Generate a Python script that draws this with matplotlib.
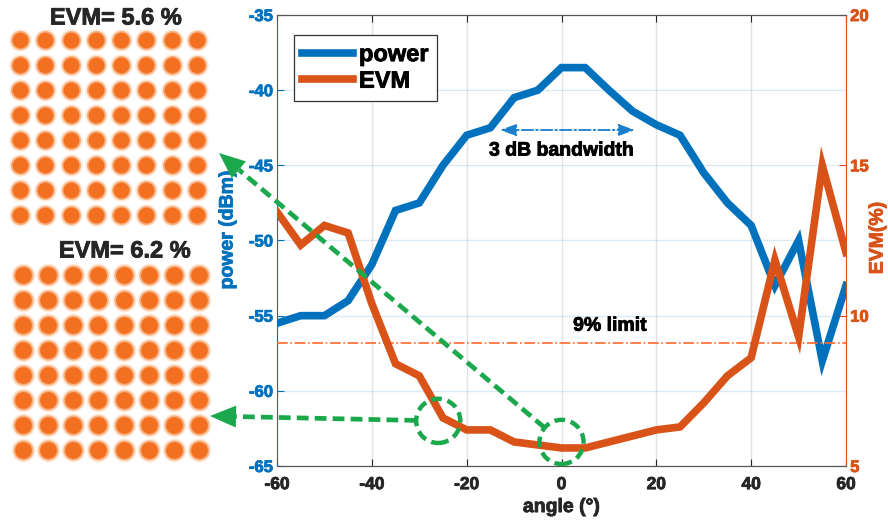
import numpy as np
import matplotlib.pyplot as plt
import matplotlib.patheffects as pe
from matplotlib.patches import Ellipse, Polygon

plt.rcParams['font.family'] = ['Liberation Sans', 'DejaVu Sans']
plt.rcParams['font.weight'] = 'bold'
plt.rcParams['axes.unicode_minus'] = False

# data
angle = [-60, -55, -50, -45, -40, -35, -30, -25, -20, -15, -10, -5, 0,
         5, 10, 15, 20, 25, 30, 35, 40, 45, 50, 55, 60]
power = [-55.5, -55, -55, -54, -51.6, -48, -47.5, -45, -43, -42.5, -40.5, -40, -38.5,
         -38.5, -40, -41.4, -42.3, -43, -45.5, -47.5, -49, -53, -50, -58, -53]
evm = [13.45, 12.35, 13.0, 12.75, 10.4, 8.4, 8.0, 6.6, 6.2, 6.2, 5.8, 5.7, 5.6,
       5.6, 5.8, 6.0, 6.2, 6.3, 7.1, 8.0, 8.6, 11.85, 9.3, 15.0, 12.1]
evm_limit = 9.1
bw_edges = [-13, 15.5]
bw_level = -42.65
marked_angle = [-26, 0]
marked_evm = [6.5, 5.8]
qam_levels = [-7, -5, -3, -1, 1, 3, 5, 7]
const_titles = ['EVM= 5.6 %', 'EVM= 6.2 %']
x_ticks = [-60, -40, -20, 0, 20, 40, 60]
p_ticks = [-65, -60, -55, -50, -45, -40, -35]
e_ticks = [5, 10, 15, 20]

blue = '#0072BD'
orange = '#D95319'
green = '#1BA84C'
dot = '#F37021'
dark = '#262626'

W, H = 888, 523
fig = plt.figure(figsize=(W / 100, H / 100), dpi=100)


def px_rect(x0, y0, x1, y1):
    return [x0 / W, 1 - y1 / H, (x1 - x0) / W, (y1 - y0) / H]


def heavy(t, w=0.6):
    # thicken the glyphs a little, like the blurred bold text of the original
    t.set_path_effects([pe.withStroke(linewidth=w, foreground=t.get_color())])


# ---- main plot
ax = fig.add_axes(px_rect(277, 15, 846, 466))
ax2 = ax.twinx()

l1, = ax.plot(angle, power, color=blue, lw=5.5, solid_joinstyle='miter', zorder=3)
l2, = ax2.plot(angle, evm, color=orange, lw=5.5, solid_joinstyle='miter', zorder=3)

ax.set_xlim(-60, 60)
ax.set_ylim(-65, -35)
ax2.set_ylim(5, 20)
ax.set_xticks(x_ticks, [str(v) for v in x_ticks], fontweight='bold', fontsize=12.5)
ax.set_yticks(p_ticks, [str(v) for v in p_ticks], fontweight='bold', fontsize=12)
ax2.set_yticks(e_ticks, [str(v) for v in e_ticks], fontweight='bold', fontsize=12)

ax.grid(True, axis='x', color=dark, alpha=0.13, lw=1)
ax.grid(True, axis='y', color=blue, alpha=0.15, lw=1)
ax.set_axisbelow(True)

ax.tick_params(axis='x', direction='in', length=5, top=True, colors=dark, pad=8)
ax.tick_params(axis='y', direction='in', length=5, colors=blue, pad=3)
ax2.tick_params(axis='y', direction='in', length=5, colors=orange, pad=3)
for t in ax.get_xticklabels():
    t.set_path_effects([pe.withStroke(linewidth=0.6, foreground=dark)])
for t in ax.get_yticklabels():
    t.set_path_effects([pe.withStroke(linewidth=0.6, foreground=blue)])
for t in ax2.get_yticklabels():
    t.set_path_effects([pe.withStroke(linewidth=0.6, foreground=orange)])

ax.spines['left'].set_color(blue)
ax.spines['right'].set_visible(False)
ax2.spines['left'].set_visible(False)
ax2.spines['right'].set_color(orange)
for a in (ax, ax2):
    a.spines['top'].set_color('#555555')
    a.spines['bottom'].set_color('#555555')

xl = ax.set_xlabel('angle (°)', fontsize=14, fontweight='bold', color=dark, labelpad=5)
heavy(xl)
heavy(fig.text(228 / W, 1 - 230 / H, 'power (dBm)', rotation=90, ha='center',
               va='center', fontsize=14, fontweight='bold', color=blue))
heavy(fig.text(878 / W, 1 - 238 / H, 'EVM(%)', rotation=90, ha='center',
               va='center', fontsize=14, fontweight='bold', color=orange))

# 9% limit line
ax2.plot([-60, 60], [evm_limit, evm_limit], color='#FF6A2B', lw=1.2, ls='-.', zorder=2)
heavy(ax2.text(10.2, 9.65, '9% limit', ha='center', va='center', fontsize=14,
               fontweight='bold', color='black'))

# 3 dB bandwidth
ax.annotate('', xy=(bw_edges[1], bw_level), xytext=(bw_edges[0], bw_level),
            arrowprops=dict(arrowstyle='<|-|>,head_length=0.7,head_width=0.25',
                            color='#1A7FCC', lw=1.3, ls='-.', mutation_scale=14,
                            shrinkA=0, shrinkB=0))
heavy(ax.text(0, -44.05, '3 dB bandwidth', ha='center', va='center', fontsize=14,
              fontweight='bold', color='black'))

# legend
leg = ax2.legend([l1, l2], ['power', 'EVM'], loc='upper left',
                 bbox_to_anchor=(0.03, 0.956), borderaxespad=0, fontsize=17,
                 handlelength=2.15, handletextpad=0.25, borderpad=0.35,
                 labelspacing=0.15, fancybox=False, framealpha=1,
                 edgecolor='#333333')
leg.get_frame().set_linewidth(0.9)
for t in leg.get_texts():
    t.set_fontweight('bold')
    heavy(t)

# circles and arrows to constellations (drawn in figure pixels)
heads = [(210, 416), (219, 153)]
circ_r = 22
head_len, head_half = 26, 11
for xa, ya, (hx, hy) in zip(marked_angle, marked_evm, heads):
    ax2.add_patch(Ellipse((xa, ya), 9.3, 1.47, fill=False, ec=green, lw=3.2,
                          ls=(0, (2.4, 1.3)), clip_on=False, zorder=5))
    cx, cy = ax2.transData.transform((xa, ya))
    tip = np.array([hx, H - hy], dtype=float)
    cen = np.array([cx, cy])
    d = tip - cen
    d = d / np.hypot(*d)
    nrm = np.array([-d[1], d[0]])
    start = cen + d * circ_r
    base = tip - d * head_len
    fig.add_artist(plt.Line2D([start[0], base[0]], [start[1], base[1]],
                              transform=None, color=green, lw=3.4,
                              ls=(0, (2.5, 1.3)), zorder=5))
    tri = np.array([tip, base + nrm * head_half, base - nrm * head_half])
    fig.add_artist(Polygon(tri, closed=True, transform=None, color=green, lw=0,
                           zorder=5))

# ---- constellations
qi, qq = np.meshgrid(qam_levels, qam_levels)
boxes = [(5, 25, 212, 230), (7.5, 260, 214.5, 465)]
title_pos = [(116, 18), (125, 251)]
grow = [1.0, 1.12]
for box, title, tp, g in zip(boxes, const_titles, title_pos, grow):
    cax = fig.add_axes(px_rect(*box))
    cax.scatter(qi.ravel(), qq.ravel(), s=260 * g, color='#FBC9A4', alpha=0.4,
                lw=0)
    cax.scatter(qi.ravel(), qq.ravel(), s=190 * g, color='#F59A5A', alpha=0.7,
                lw=0)
    cax.scatter(qi.ravel(), qq.ravel(), s=130 * g, color=dot, lw=0)
    cax.set_xlim(-8.2, 8.2)
    cax.set_ylim(-8.2, 8.2)
    cax.axis('off')
    heavy(fig.text(tp[0] / W, 1 - tp[1] / H, title, ha='center', va='center',
                   fontsize=17, fontweight='bold', color=dark))

fig.savefig('out.png', dpi=100)
